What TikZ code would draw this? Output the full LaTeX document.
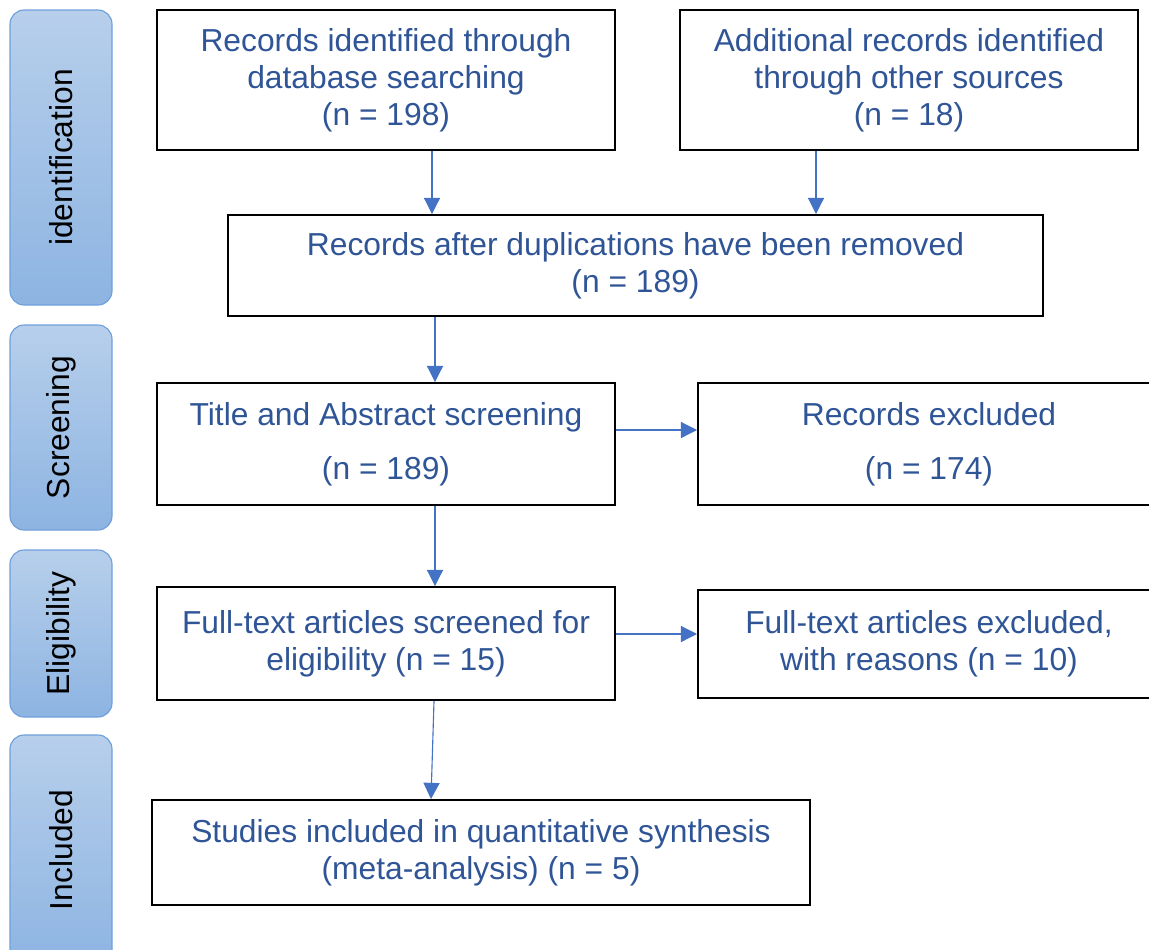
\documentclass[tikz,border=0pt]{standalone}
\usepackage{fontspec}
\setmainfont{Liberation Sans}
\usetikzlibrary{arrows.meta,calc}
\definecolor{txtblue}{HTML}{2F5597}
\definecolor{arrblue}{HTML}{4472C4}
\definecolor{barlight}{HTML}{B7CFEB}
\definecolor{bardark}{HTML}{8DB4E2}
\definecolor{barline}{HTML}{6E9FDB}
\def\pxu{0.025cm}

\begin{document}
\begin{tikzpicture}[x=\pxu, y=-\pxu,
  every node/.style={font=\fontsize{22.6}{26.3}\selectfont},
  box/.style={draw, line width=1.4pt, align=center, text=txtblue, inner sep=0pt},
  phase/.style={rotate=90, draw=barline, line width=0.8pt, rounded corners=10pt,
    top color=barlight, bottom color=bardark, inner sep=0pt, minimum height=102*\pxu},
  arr/.style={draw=arrblue, line width=0.8pt, -{Triangle[length=11.5pt,width=11.5pt]}}]
  \clip (0,0) rectangle (1149,949);

  % phase bars
  \node[phase, minimum width=295*\pxu] (idph) at (61,157.5) {identification};
  \node[phase, minimum width=205*\pxu] (scph) at (61,427.5) {Screening};
  \node[phase, minimum width=167*\pxu] (elph) at (61,633.5) {Eligibility};
  \node[phase, minimum width=230*\pxu] (inph) at (61,850) {Included};

  % boxes
  \node[box, minimum width=458*\pxu, minimum height=140*\pxu] (dbrec) at (386,80)
    {Records identified through\\database searching\\(n = 198)};
  \node[box, minimum width=458*\pxu, minimum height=140*\pxu] (othrec) at (909,80)
    {Additional records identified\\through other sources\\(n = 18)};
  \node[box, minimum width=815*\pxu, minimum height=101*\pxu] (dedup) at (635.5,265.5)
    {Records after duplications have been removed\\(n = 189)};
  \node[box, minimum width=458*\pxu, minimum height=122*\pxu] (screen) at (386,444)
    {Title and Abstract screening\\[12pt](n = 189)};
  \node[box, minimum width=462*\pxu, minimum height=122*\pxu] (excl) at (929,444)
    {Records excluded\\[12pt](n = 174)};
  \node[box, minimum width=458*\pxu, minimum height=113*\pxu] (full) at (386,643.5)
    {Full-text articles screened for\\eligibility (n = 15)};
  \node[box, minimum width=462*\pxu, minimum height=108*\pxu] (fullex) at (929,644)
    {Full-text articles excluded,\\with reasons (n = 10)};
  \node[box, minimum width=658*\pxu, minimum height=105*\pxu] (incl) at (481,852.5)
    {Studies included in quantitative synthesis\\(meta-analysis) (n = 5)};

  % connectors
  \coordinate (a1) at ($(dbrec.south)+(46,0)$);
  \coordinate (a2) at ($(othrec.south)+(-93,0)$);
  \coordinate (a3) at ($(dedup.south)+(-200.5,0)$);
  \coordinate (a4) at ($(screen.south)+(49,0)$);
  \coordinate (a5) at ($(full.south)+(48,0)$);
  \coordinate (a6) at ($(incl.north)+(-50,0)$);
  \coordinate (h1) at ($(screen.east)+(0,-14)$);
  \coordinate (h2) at ($(full.east)+(0,-9.5)$);
  \draw[arr] (a1) -- (a1 |- dedup.north);
  \draw[arr] (a2) -- (a2 |- dedup.north);
  \draw[arr] (a3) -- (a3 |- screen.north);
  \draw[arr] (a4) -- (a4 |- full.north);
  \draw[arr] (a5) -- (a6);
  \draw[arr] (h1) -- (h1 -| excl.west);
  \draw[arr] (h2) -- (h2 -| fullex.west);
\end{tikzpicture}
\end{document}
